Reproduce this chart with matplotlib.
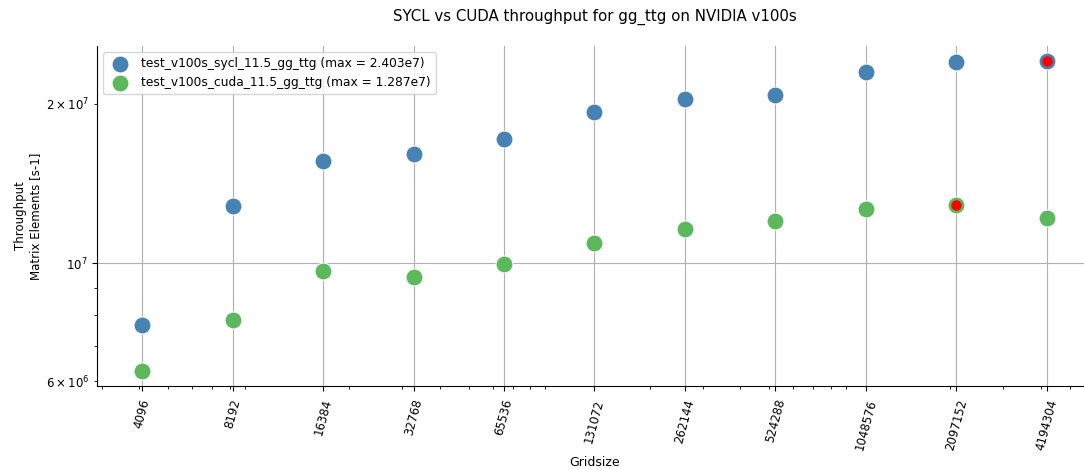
import matplotlib
matplotlib.use("Agg")
import matplotlib.pyplot as plt
from matplotlib.ticker import NullFormatter

gridsizes = [4096, 8192, 16384, 32768, 65536, 131072, 262144, 524288, 1048576, 2097152, 4194304]
sycl_throughput = [7.64e6, 1.284e7, 1.557e7, 1.605e7, 1.719e7, 1.930e7, 2.041e7, 2.077e7, 2.299e7, 2.398e7, 2.403e7]
cuda_throughput = [6.28e6, 7.83e6, 9.69e6, 9.44e6, 9.96e6, 1.091e7, 1.160e7, 1.203e7, 1.264e7, 1.287e7, 1.217e7]

series = [
    ("test_v100s_sycl_11.5_gg_ttg", sycl_throughput, "#4682b4"),
    ("test_v100s_cuda_11.5_gg_ttg", cuda_throughput, "#5cb85c"),
]

fig = plt.figure(figsize=(10.84, 4.69), dpi=100)
ax = fig.add_axes([97 / 1084, 83 / 469, 995 / 1084, 340 / 469])

for name, values, color in series:
    peak = max(values)
    ax.scatter(gridsizes, values, s=150, color=color, edgecolors="white", linewidths=0.8,
               label=f"{name} (max = {peak:.3e}".replace("e+0", "e") + ")", zorder=3)
    ax.scatter([gridsizes[values.index(peak)]], [peak], s=42, color="red", zorder=4)

ax.set_xscale("log")
ax.set_yscale("log")
ax.set_xticks(gridsizes)
ax.set_xticklabels([str(g) for g in gridsizes], rotation=75)
ax.xaxis.set_minor_formatter(NullFormatter())
ax.tick_params(axis="both", which="both", labelsize=8.5)
ax.tick_params(axis="x", which="major", pad=5)
ax.grid(True, which="major", color="#b0b0b0", linewidth=0.8)
ax.set_axisbelow(True)

ax.spines["top"].set_visible(False)
ax.spines["right"].set_visible(False)

ax.set_title("SYCL vs CUDA throughput for gg_ttg on NVIDIA v100s", fontsize=10.8, pad=18)
ax.set_xlabel("Gridsize", fontsize=9, labelpad=3)
ax.set_ylabel("Throughput\nMatrix Elements [s-1]", fontsize=8.5, labelpad=2.5)
ax.legend(loc="upper left", fontsize=8.8, borderpad=0.4, handletextpad=0.7)

fig.savefig("out.png", dpi=100)
